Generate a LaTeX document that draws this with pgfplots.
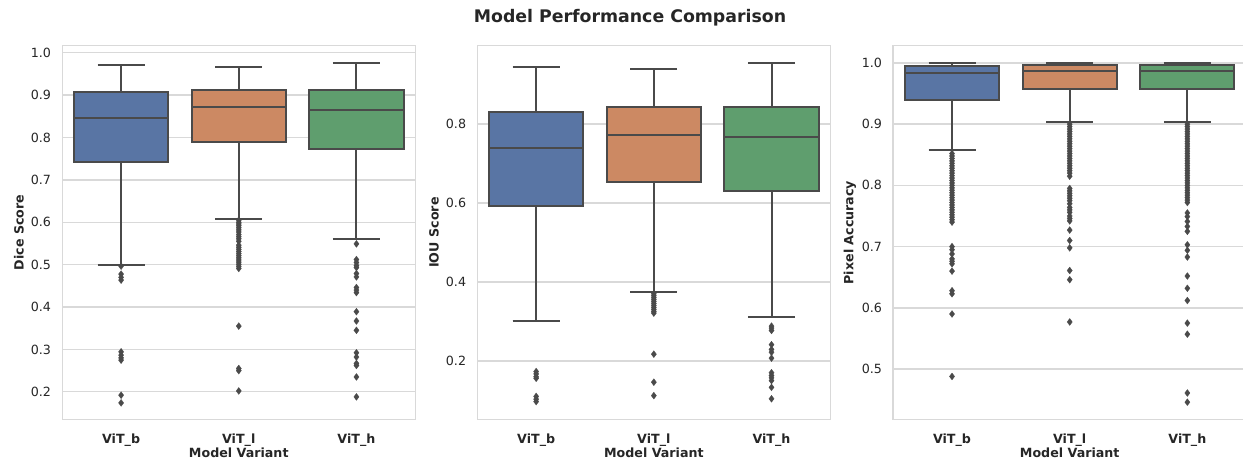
\documentclass[border=0pt]{standalone}
\usepackage{pgfplots}
\pgfplotsset{compat=1.18}
\usepgfplotslibrary{statistics}
\usepackage{fontspec}
\setmainfont{DejaVu Sans}
\definecolor{sbblue}{HTML}{5975A4}
\definecolor{sborange}{HTML}{CC8963}
\definecolor{sbgreen}{HTML}{5F9E6E}
\definecolor{boxline}{HTML}{4A4A4A}
\definecolor{gridc}{HTML}{D9D9D9}
\definecolor{txt}{HTML}{262626}
\pgfplotsset{
  sbbox/.style={boxplot/draw direction=y, draw=boxline, line width=1.5pt,
    mark=diamond*, mark size=2.6pt, mark options={fill=boxline, draw=boxline, line width=0.2pt},
    boxplot/box extend=0.8, boxplot/whisker extend=0.4,
    boxplot/every box/.style={draw=boxline, line width=1.5pt},
    boxplot/every median/.style={draw=boxline, line width=1.5pt},
    boxplot/every whisker/.style={draw=boxline, line width=1.5pt}},
  sbaxis/.style={
    width=264.75pt, height=280.2pt, scale only axis,
    anchor=south west,
    xmin=-0.5, xmax=2.5, xtick={0,1,2},
    xticklabels={ViT\_b, ViT\_l, ViT\_h},
    major tick length=0pt,
    ymajorgrids, xmajorgrids=false,
    major grid style={gridc, line width=1pt},
    axis line style={gridc, line width=1.1pt},
    tick label style={font=\fontsize{9.5}{11}\selectfont, text=txt},
    xticklabel style={font=\fontsize{9.5}{11}\selectfont\bfseries, anchor=base, yshift=-18pt},
    yticklabel style={anchor=east, inner sep=0pt, xshift=-8.25pt,
      /pgf/number format/.cd, fixed, fixed zerofill, precision=1, assume math mode=true},
    label style={font=\fontsize{9.5}{11}\selectfont\bfseries, text=txt},
    xlabel={Model Variant},
    xlabel style={at={(axis description cs:0.5,0)}, anchor=base, yshift=-28.8pt},
    ylabel style={at={(axis description cs:-0.1227,0.5)}, anchor=center},
    clip=false,
  },
}
\begin{document}
\begin{tikzpicture}
\useasboundingbox (0,0) rectangle (932.25pt,346.5pt);
\node[font=\fontsize{13}{15}\selectfont\bfseries, text=txt] at (472.5pt,333.4pt) {Model Performance Comparison};

% Panel 1: Dice
\begin{axis}[sbaxis, at={(46.7pt,32pt)}, ymin=0.135, ymax=1.0165,
  ytick={0.2,0.3,0.4,0.5,0.6,0.7,0.8,0.9,1.0}, ylabel={Dice Score}]
\addplot[sbbox, fill=sbblue, boxplot prepared={draw position=0,
  lower whisker=0.499, lower quartile=0.743, median=0.847, upper quartile=0.907, upper whisker=0.970}]
  coordinates {(0,0.4965) (0,0.4776) (0,0.470) (0,0.4634) (0,0.2943) (0,0.2864) (0,0.280) (0,0.2746) (0,0.192) (0,0.1739)};
\addplot[sbbox, fill=sborange, boxplot prepared={draw position=1,
  lower whisker=0.608, lower quartile=0.790, median=0.871, upper quartile=0.913, upper whisker=0.967}]
  coordinates {(1,0.605) (1,0.600) (1,0.596) (1,0.592) (1,0.587) (1,0.582) (1,0.577) (1,0.571) (1,0.566) (1,0.561) (1,0.555) (1,0.546) (1,0.541) (1,0.536) (1,0.531) (1,0.526) (1,0.521) (1,0.516) (1,0.511) (1,0.506) (1,0.501) (1,0.496) (1,0.491) (1,0.355) (1,0.255) (1,0.250) (1,0.202)};
\addplot[sbbox, fill=sbgreen, boxplot prepared={draw position=2,
  lower whisker=0.561, lower quartile=0.772, median=0.866, upper quartile=0.913, upper whisker=0.976}]
  coordinates {(2,0.549) (2,0.512) (2,0.505) (2,0.498) (2,0.493) (2,0.479) (2,0.471) (2,0.446) (2,0.440) (2,0.434) (2,0.389) (2,0.367) (2,0.345) (2,0.292) (2,0.282) (2,0.267) (2,0.262) (2,0.235) (2,0.188)};
\end{axis}

% Panel 2: IOU
\begin{axis}[sbaxis, at={(358pt,32pt)}, ymin=0.052, ymax=0.998,
  ytick={0.2,0.4,0.6,0.8}, ylabel={IOU Score}]
\addplot[sbbox, fill=sbblue, boxplot prepared={draw position=0,
  lower whisker=0.302, lower quartile=0.592, median=0.738, upper quartile=0.831, upper whisker=0.943}]
  coordinates {(0,0.173) (0,0.167) (0,0.160) (0,0.156) (0,0.110) (0,0.103) (0,0.097)};
\addplot[sbbox, fill=sborange, boxplot prepared={draw position=1,
  lower whisker=0.375, lower quartile=0.654, median=0.773, upper quartile=0.842, upper whisker=0.939}]
  coordinates {(1,0.370) (1,0.365) (1,0.360) (1,0.355) (1,0.350) (1,0.345) (1,0.340) (1,0.335) (1,0.330) (1,0.325) (1,0.321) (1,0.217) (1,0.146) (1,0.112)};
\addplot[sbbox, fill=sbgreen, boxplot prepared={draw position=2,
  lower whisker=0.311, lower quartile=0.629, median=0.766, upper quartile=0.842, upper whisker=0.954}]
  coordinates {(2,0.288) (2,0.283) (2,0.277) (2,0.241) (2,0.229) (2,0.222) (2,0.207) (2,0.170) (2,0.163) (2,0.157) (2,0.150) (2,0.133) (2,0.104)};
\end{axis}

% Panel 3: Pixel accuracy
\begin{axis}[sbaxis, at={(669.9pt,32pt)}, ymin=0.418, ymax=1.028,
  ytick={0.5,0.6,0.7,0.8,0.9,1.0}, ylabel={Pixel Accuracy}]
\addplot[sbbox, fill=sbblue, boxplot prepared={draw position=0,
  lower whisker=0.857, lower quartile=0.940, median=0.983, upper quartile=0.995, upper whisker=1.0}]
  coordinates {(0,0.852) (0,0.848) (0,0.844) (0,0.840) (0,0.836) (0,0.832) (0,0.828) (0,0.824) (0,0.820) (0,0.816) (0,0.812) (0,0.808) (0,0.804) (0,0.800) (0,0.796) (0,0.792) (0,0.788) (0,0.784) (0,0.780) (0,0.776) (0,0.772) (0,0.768) (0,0.764) (0,0.760) (0,0.756) (0,0.752) (0,0.748) (0,0.744) (0,0.740) (0,0.700) (0,0.695) (0,0.688) (0,0.680) (0,0.676) (0,0.672) (0,0.660) (0,0.628) (0,0.623) (0,0.590) (0,0.488)};
\addplot[sbbox, fill=sborange, boxplot prepared={draw position=1,
  lower whisker=0.903, lower quartile=0.958, median=0.986, upper quartile=0.996, upper whisker=1.0}]
  coordinates {(1,0.900) (1,0.896) (1,0.892) (1,0.888) (1,0.884) (1,0.880) (1,0.876) (1,0.872) (1,0.868) (1,0.864) (1,0.860) (1,0.856) (1,0.852) (1,0.848) (1,0.844) (1,0.840) (1,0.836) (1,0.832) (1,0.828) (1,0.824) (1,0.820) (1,0.815) (1,0.795) (1,0.791) (1,0.787) (1,0.783) (1,0.779) (1,0.775) (1,0.770) (1,0.764) (1,0.760) (1,0.756) (1,0.750) (1,0.746) (1,0.742) (1,0.727) (1,0.710) (1,0.698) (1,0.661) (1,0.646) (1,0.577)};
\addplot[sbbox, fill=sbgreen, boxplot prepared={draw position=2,
  lower whisker=0.903, lower quartile=0.957, median=0.986, upper quartile=0.996, upper whisker=1.0}]
  coordinates {(2,0.900) (2,0.896) (2,0.892) (2,0.888) (2,0.884) (2,0.880) (2,0.876) (2,0.872) (2,0.868) (2,0.864) (2,0.860) (2,0.856) (2,0.852) (2,0.848) (2,0.844) (2,0.840) (2,0.836) (2,0.832) (2,0.828) (2,0.824) (2,0.820) (2,0.816) (2,0.812) (2,0.808) (2,0.804) (2,0.800) (2,0.796) (2,0.792) (2,0.788) (2,0.784) (2,0.780) (2,0.776) (2,0.772) (2,0.755) (2,0.749) (2,0.741) (2,0.733) (2,0.725) (2,0.703) (2,0.694) (2,0.683) (2,0.652) (2,0.632) (2,0.612) (2,0.575) (2,0.557) (2,0.461) (2,0.446)};
\end{axis}
\end{tikzpicture}
\end{document}
